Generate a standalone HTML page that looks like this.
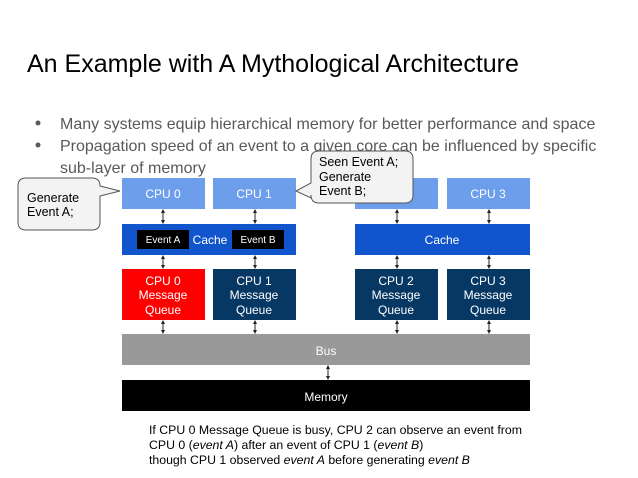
<!DOCTYPE html>
<html><head><meta charset="utf-8"><style>
html,body{margin:0;padding:0;background:#fff;}
svg{display:block;font-family:"Liberation Sans",Arial,sans-serif;}
</style></head><body>
<svg width="638" height="478" viewBox="0 0 638 478" xmlns="http://www.w3.org/2000/svg">
<defs>
<marker id="ah" markerWidth="4" markerHeight="4" refX="2" refY="2" orient="auto-start-reverse"><path d="M0,0 L4,2 L0,4 z" fill="#222"/></marker>
</defs>
<text x="27" y="72" font-size="25" fill="#000">An Example with A Mythological Architecture</text>
<g font-size="16" fill="#595959">
<circle cx="38" cy="123" r="2.5"/>
<circle cx="38" cy="145" r="2.5"/>
<text x="60" y="129">Many systems equip hierarchical memory for better performance and space</text>
<text x="60" y="151">Propagation speed of an event to a given core can be influenced by specific</text>
<text x="60" y="173">sub-layer of memory</text>
</g>
<g fill="#6d9eeb"><rect x="122" y="178" width="83" height="31"/><rect x="213" y="178" width="83" height="31"/><rect x="355" y="178" width="83" height="31"/><rect x="447" y="178" width="83" height="31"/></g>
<g font-size="12" fill="#fff" text-anchor="middle">
<text x="163" y="198">CPU 0</text><text x="254" y="198">CPU 1</text><text x="396" y="198">CPU 2</text><text x="488" y="198">CPU 3</text>
</g>
<rect x="122" y="224" width="174" height="31" fill="#1155cc"/>
<rect x="355" y="224" width="175" height="31" fill="#1155cc"/>
<rect x="137" y="230" width="52" height="19" fill="#000"/>
<rect x="232" y="230" width="52" height="19" fill="#000"/>
<g font-size="10" fill="#fff" text-anchor="middle"><text x="163" y="243">Event A</text><text x="258" y="243">Event B</text></g>
<g font-size="12" fill="#fff" text-anchor="middle"><text x="210" y="244">Cache</text><text x="442" y="244">Cache</text></g>
<rect x="122" y="269" width="83" height="51" fill="#ff0000"/>
<g fill="#073763"><rect x="213" y="269" width="83" height="51"/><rect x="355" y="269" width="83" height="51"/><rect x="447" y="269" width="83" height="51"/></g>
<g font-size="12" fill="#fff" text-anchor="middle">
<text x="163" y="285">CPU 0</text><text x="163" y="299">Message</text><text x="163" y="314">Queue</text>
<text x="254" y="285">CPU 1</text><text x="254" y="299">Message</text><text x="254" y="314">Queue</text>
<text x="396" y="285">CPU 2</text><text x="396" y="299">Message</text><text x="396" y="314">Queue</text>
<text x="488" y="285">CPU 3</text><text x="488" y="299">Message</text><text x="488" y="314">Queue</text>
</g>
<rect x="122" y="334" width="408" height="31" fill="#999"/>
<text x="326" y="355" font-size="12" fill="#fff" text-anchor="middle">Bus</text>
<rect x="122" y="380" width="408" height="31" fill="#000"/>
<text x="326" y="401" font-size="12" fill="#fff" text-anchor="middle">Memory</text>
<g stroke="#222" stroke-width="1" marker-start="url(#ah)" marker-end="url(#ah)">
<line x1="163" y1="211" x2="163" y2="222"/><line x1="255" y1="211" x2="255" y2="222"/><line x1="397" y1="211" x2="397" y2="222"/><line x1="489" y1="211" x2="489" y2="222"/>
<line x1="163" y1="257" x2="163" y2="267"/><line x1="255" y1="257" x2="255" y2="267"/><line x1="397" y1="257" x2="397" y2="267"/><line x1="489" y1="257" x2="489" y2="267"/>
<line x1="163" y1="322" x2="163" y2="332"/><line x1="255" y1="322" x2="255" y2="332"/><line x1="397" y1="322" x2="397" y2="332"/><line x1="489" y1="322" x2="489" y2="332"/>
<line x1="328" y1="367" x2="328" y2="378"/>
</g>
<path d="M26,178 H92 Q100,178 100,186 V186 L120,191 L100,196 V222 Q100,230 92,230 H26 Q18,230 18,222 V186 Q18,178 26,178 Z" fill="#f3f3f3" stroke="#555" stroke-width="1"/>
<g font-size="12.5" fill="#000"><text x="27" y="202">Generate</text><text x="27" y="216">Event A;</text></g>
<path d="M319,151 H405 Q413,151 413,159 V195 Q413,203 405,203 H319 Q311,203 311,195 V198 L296,191 L311,183 V159 Q311,151 319,151 Z" fill="#f3f3f3" stroke="#555" stroke-width="1"/>
<g font-size="12.5" fill="#000"><text x="319" y="166">Seen Event A;</text><text x="319" y="181">Generate</text><text x="319" y="195">Event B;</text></g>
<g font-size="12.3" fill="#000">
<text x="149" y="434">If CPU 0 Message Queue is busy, CPU 2 can observe an event from</text>
<text x="149" y="449">CPU 0 (<tspan font-style="italic">event A</tspan>) after an event of CPU 1 (<tspan font-style="italic">event B</tspan>)</text>
<text x="149" y="464">though CPU 1 observed <tspan font-style="italic">event A</tspan> before generating <tspan font-style="italic">event B</tspan></text>
</g>
</svg>
</body></html>
